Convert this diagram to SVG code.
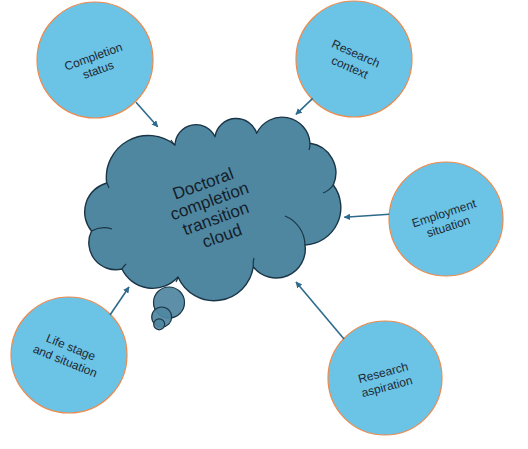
<svg xmlns="http://www.w3.org/2000/svg" width="528" height="449" viewBox="0 0 528 449">
<defs>
<style>
.node circle{fill:#6bc3e6;stroke:#ec8a4c;stroke-width:1.2}
.lbl{font-family:"Liberation Sans","Open Sans",Arial,sans-serif;font-size:12px;fill:#1e2a33;text-anchor:middle}
.big{font-family:"Liberation Sans","Open Sans",Arial,sans-serif;font-size:17px;fill:#14202a;text-anchor:middle}
.cloud{fill:#4f87a1;stroke:#1a3546;stroke-width:1.4;stroke-linejoin:round}
.inner{fill:none;stroke:#1a3546;stroke-width:1.2}
.bub{fill:#4f87a1;fill-opacity:0.92;stroke:#1a3546;stroke-width:1.2}
.conn line{stroke:#2d6a8c;stroke-width:1.6;marker-end:url(#ah)}
</style>
<marker id="ah" viewBox="0 0 10 10" refX="9" refY="5" markerWidth="4" markerHeight="4" orient="auto" markerUnits="strokeWidth">
<path d="M0,0 L10,5 L0,10 z" fill="#2d6a8c"/>
</marker>
</defs>
<rect width="528" height="449" fill="#ffffff"/>

<g id="cloud-node">
<path class="cloud" d="M106.7,183 A42,42 0 0 1 175,145 A21,21 0 0 1 215,136.7 A21.5,21.5 0 0 1 256.7,133.3 A28,28 0 0 1 310,143.3 A30,30 0 0 1 333.3,185 A37.5,37.5 0 0 1 305,245 A29,29 0 0 1 253.3,266.7 A39.5,39.5 0 0 1 178,277 A34,34 0 0 1 122,269 A27,27 0 0 1 91.5,231 A30,30 0 0 1 106.7,183 Z"/>
<path class="inner" d="M285,216 A32,32 0 0 1 305,245"/>
<path class="inner" d="M333.3,185 A22,22 0 0 1 323,193"/>
<path class="inner" d="M253.3,266.7 A20,20 0 0 1 254,258"/>
<path class="inner" d="M178,277 A20,20 0 0 1 176,282"/>
<path class="inner" d="M122,269 A22,22 0 0 1 126,264"/>
<path class="inner" d="M91.5,231 A25,25 0 0 1 112,229"/>
<path class="inner" d="M106.7,183 A25,25 0 0 1 109,188"/>
<path class="inner" d="M175,145 A20,20 0 0 1 171,140"/>
<path class="inner" d="M310,143.3 A20,20 0 0 1 309,150"/>
<circle class="bub" cx="169" cy="302.5" r="15.5"/>
<circle class="bub" cx="161.7" cy="317" r="10"/>
<circle class="bub" cx="159.2" cy="324.3" r="5.5"/>
<g transform="translate(212.4,209.4) rotate(-20)">
<text class="big" x="0" y="-21.7">Doctoral</text>
<text class="big" x="0" y="-3.2">completion</text>
<text class="big" x="0" y="15.3">transition</text>
<text class="big" x="0" y="33.8">cloud</text>
</g>
</g>

<g id="completion-status" class="node">
<circle cx="95" cy="60" r="58"/>
<g transform="translate(95.8,63.3) rotate(-20)">
<text class="lbl" x="0" y="-3">Completion</text>
<text class="lbl" x="0" y="11">status</text>
</g>
</g>

<g id="research-context" class="node">
<circle cx="354" cy="59" r="58"/>
<g transform="translate(352.8,60.5) rotate(24)">
<text class="lbl" x="0" y="-3.5">Research</text>
<text class="lbl" x="0" y="11.5">context</text>
</g>
</g>

<g id="employment-situation" class="node">
<circle cx="446" cy="219" r="57"/>
<g transform="translate(446.2,220) rotate(-18)">
<text class="lbl" x="0" y="-3">Employment</text>
<text class="lbl" x="0" y="11">situation</text>
</g>
</g>

<g id="life-stage" class="node">
<circle cx="69" cy="355" r="58"/>
<g transform="translate(68.2,353.7) rotate(22)">
<text class="lbl" x="0" y="-3">Life stage</text>
<text class="lbl" x="0" y="12">and situation</text>
</g>
</g>

<g id="research-aspiration" class="node">
<circle cx="385" cy="378" r="57"/>
<g transform="translate(385,379.5) rotate(-15)">
<text class="lbl" x="0" y="-3">Research</text>
<text class="lbl" x="0" y="11.5">aspiration</text>
</g>
</g>

<g id="connectors" class="conn">
<line x1="136" y1="102.3" x2="157.7" y2="126.7"/>
<line x1="312.7" y1="98.3" x2="296" y2="114.3"/>
<line x1="389.3" y1="214.3" x2="344.3" y2="217.3"/>
<line x1="110" y1="315" x2="129" y2="287"/>
<line x1="344" y1="339" x2="296" y2="282"/>
</g>
</svg>
